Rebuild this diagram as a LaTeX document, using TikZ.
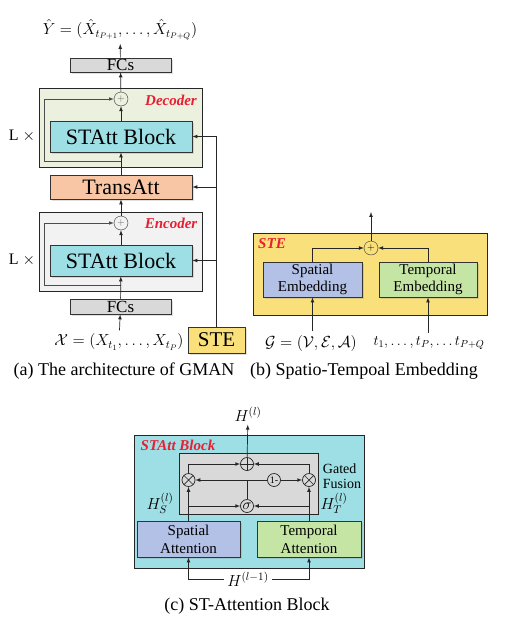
\RequirePackage{fix-cm}
\documentclass[tikz,border=0pt]{standalone}
\usepackage{fontspec}
\setmainfont{Liberation Serif}
\usetikzlibrary{positioning,shadows}

\definecolor{decgreen}{RGB}{235,241,222}
\definecolor{encgray}{RGB}{242,242,242}
\definecolor{attcyan}{RGB}{157,223,229}
\definecolor{transpeach}{RGB}{248,198,164}
\definecolor{fcgray}{RGB}{217,217,217}
\definecolor{steyellow}{RGB}{249,224,122}
\definecolor{spblue}{RGB}{180,193,231}
\definecolor{tpgreen}{RGB}{197,229,165}
\definecolor{tagred}{RGB}{232,30,50}

\begin{document}
\begin{tikzpicture}[x=1pt,y=-1pt]
	\tikzset{boite/.style={rectangle, draw=black!80, line width=0.8pt, text centered, inner sep=0pt,
		drop shadow={opacity=0.25, shadow xshift=1.5pt, shadow yshift=-1.5pt}},
	cadre/.style={rectangle, draw=black!85, line width=0.8pt},
	somme/.style={circle, draw=black!80, inner sep=0pt, minimum size=14pt},
	rond/.style={circle, draw=black!85, line width=0.7pt, inner sep=0pt, minimum size=13pt},
	croix/.style={rond, path picture={\draw[black!85, line width=0.7pt]
		(path picture bounding box.north west) -- (path picture bounding box.south east)
		(path picture bounding box.north east) -- (path picture bounding box.south west);}},
	plus/.style={rond, path picture={\draw[black!85, line width=0.7pt]
		(path picture bounding box.north) -- (path picture bounding box.south)
		(path picture bounding box.east) -- (path picture bounding box.west);}},
	etiq/.style={text=tagred, font=\fontsize{15}{17}\selectfont\bfseries\itshape},
	grand/.style={font=\fontsize{22}{24}\selectfont},
	moyen/.style={font=\fontsize{15}{17}\selectfont, align=center},
	formule/.style={font=\fontsize{16}{19}\selectfont},
	legende/.style={font=\fontsize{18}{20}\selectfont},
	fleche/.style={->, >=latex, draw=black!85, line width=0.7pt}};
	\useasboundingbox (0,0) rectangle (529,635);

	% (a) GMAN
	\node[formule] (yhat) at (120,30) {$\hat{Y}=(\hat{X}_{t_{P+1}},\dots,\hat{X}_{t_{P+Q}})$};
	\node[boite, fill=fcgray, minimum width=101, minimum height=14, font=\fontsize{17}{18}\selectfont] (fcT) at (120.5,65) {FCs};
	\node[cadre, fill=decgreen, minimum width=163, minimum height=79] (dec) at (120.5,127.5) {};
	\node[cadre, fill=encgray, minimum width=163, minimum height=79] (enc) at (120.5,251.5) {};
	\foreach \b/\y in {D/0, E/124} {
		\node[somme] (plus\b) at (121,99+\y) {\color{black!60}$+$};
		\node[boite, fill=attcyan, minimum width=142, minimum height=31, grand] (st\b) at (121,136.5+\y) {STAtt Block};
		\node[font=\fontsize{16}{18}\selectfont] (L\b) at (22,136+\y) {L $\times$};
		\coordinate (r\b) at (121,161+\y);
		\coordinate (c\b) at (44,161+\y);
		\draw[fleche] (st\b) -- (plus\b);
		\draw[fleche, draw=black!70, line width=0.6pt] (r\b) -- (c\b) |- (plus\b);
	}
	\node[etiq] (decT) at (171,100) {Decoder};
	\node[etiq] (encT) at (171,223) {Encoder};
	\node[boite, fill=transpeach, minimum width=142, minimum height=24, grand] (trans) at (121,187) {TransAtt};
	\node[boite, fill=fcgray, minimum width=101, minimum height=15, font=\fontsize{17}{18}\selectfont] (fcB) at (120.5,306.5) {FCs};
	\node[formule] (xin) at (119,342) {$\mathcal{X}=(X_{t_1},\dots,X_{t_P})$};
	\node[boite, fill=steyellow, minimum width=57, minimum height=26, font=\fontsize{21}{22}\selectfont] (ste) at (216.5,340) {STE};

	\draw[fleche] (plusD) -- (fcT);
	\draw[fleche] (fcT) -- (yhat);
	\draw[fleche] (trans) -- (stD);
	\draw[fleche] (plusE) -- (trans);
	\draw[fleche] (fcB) -- (stE);
	\draw[fleche] (xin) -- (fcB);
	\draw[fleche] (ste.north) |- (stD.east);
	\draw[fleche] (ste.north) |- (trans.east);
	\draw[fleche] (ste.north) |- (stE.east);
	\node[legende] (capA) at (124,371) {(a) The architecture of GMAN};

	% (b) STE
	\node[cadre, fill=steyellow, minimum width=234, minimum height=82] (steBox) at (370,274) {};
	\node[etiq] (steT) at (272,244) {STE};
	\node[somme] (plusS) at (371,248) {$+$};
	\node[boite, fill=spblue, minimum width=99, minimum height=35, moyen] (spE) at (312.5,279.5) {Spatial\\Embedding};
	\node[boite, fill=tpgreen, minimum width=98, minimum height=35, moyen] (tpE) at (428,279.5) {Temporal\\Embedding};
	\node[formule] (gform) at (311,343) {$\mathcal{G}=(\mathcal{V},\mathcal{E},\mathcal{A})$};
	\node[formule, font=\fontsize{14.5}{17}\selectfont] (tform) at (429,343) {$t_1,\dots,t_P,\dots t_{P+Q}$};
	\coordinate (steOut) at (371,212);
	\draw[fleche] (spE.north) |- (plusS);
	\draw[fleche] (tpE.north) |- (plusS);
	\draw[fleche] (plusS) -- (steOut);
	\draw[fleche] (gform.north -| spE.south) -- (spE);
	\draw[fleche] (tform.north -| tpE.south) -- (tpE);
	\node[legende] (capB) at (364,371) {(b) Spatio-Tempoal Embedding};

	% (c) STAtt Block
	\node[cadre, fill=attcyan, minimum width=230, minimum height=133] (blk) at (249,501.5) {};
	\node[etiq] (blkT) at (178,445) {STAtt Block};
	\node[cadre, fill=fcgray, minimum width=139, minimum height=61] (gate) at (248.5,483.5) {};
	\node[font=\fontsize{14}{15}\selectfont, align=left] (gatedT) at (342,476) {Gated\\Fusion};
	\node[plus] (plusG) at (247,464) {};
	\node[croix] (mulL) at (188.5,480) {};
	\node[croix] (mulR) at (309,480) {};
	\node[rond, font=\fontsize{10}{11}\selectfont] (oneM) at (274,480) {1-};
	\node[rond, font=\fontsize{15}{16}\selectfont] (sig) at (247,506) {$\sigma$};
	\node[formule] (hl) at (248,414) {$H^{(l)}$};
	\node[formule] (hs) at (160,503) {$H_S^{(l)}$};
	\node[formule] (ht) at (334,503) {$H_T^{(l)}$};
	\node[boite, fill=spblue, minimum width=103, minimum height=36, moyen, font=\fontsize{15}{18}\selectfont] (spA) at (188.5,539) {Spatial\\Attention};
	\node[boite, fill=tpgreen, minimum width=104, minimum height=36, moyen, font=\fontsize{15}{18}\selectfont] (tpA) at (309,539) {Temporal\\Attention};
	\node[formule] (hprev) at (248,579) {$H^{(l-1)}$};
	\coordinate (jL) at (188.5,506);
	\coordinate (jR) at (309,506);
	\coordinate (jC) at (247,480);

	\draw[fleche] (spA.north) -- (mulL);
	\draw[fleche] (tpA.north) -- (mulR);
	\draw[fleche] (jL) -- (sig);
	\draw[fleche] (jR) -- (sig);
	\draw[fleche] (mulL) |- (plusG);
	\draw[fleche] (mulR) |- (plusG);
	\draw[draw=black!85, line width=0.7pt] (sig) -- (jC);
	\draw[fleche] (jC) -- (mulL);
	\draw[draw=black!85, line width=0.7pt] (jC) -- (oneM);
	\draw[fleche] (oneM) -- (mulR);
	\draw[fleche] (plusG) -- (hl);
	\draw[fleche] (hprev.west) -| (spA.south);
	\draw[fleche] (hprev.east) -| (tpA.south);
	\node[legende] (capC) at (247,606) {(c) ST-Attention Block};
\end{tikzpicture}
\end{document}
